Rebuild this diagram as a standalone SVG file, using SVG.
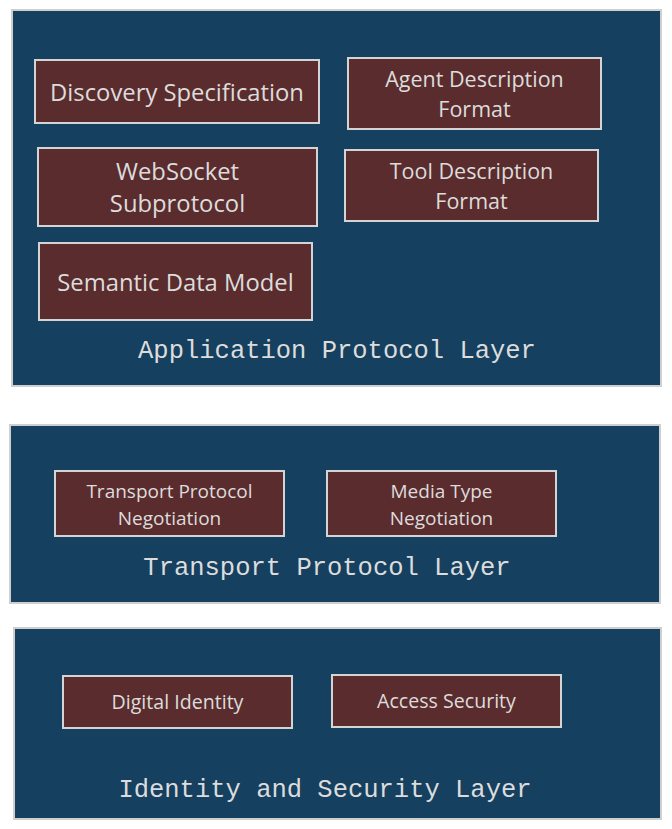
<svg xmlns="http://www.w3.org/2000/svg" width="672" height="829" viewBox="0 0 672 829">
<style>
.layer{fill:#16405f;stroke:#cfcfcf;stroke-width:2}
.node{fill:#5b2c2d;stroke:#d4d4d4;stroke-width:2}
.nt{font-family:"Open Sans","Noto Sans",sans-serif;fill:#dcdcdc;text-anchor:middle;dominant-baseline:central}
.big{font-size:23.8px}
.mid{font-size:21.5px}
.sm2{font-size:19px}
.sm3{font-size:19.6px}
.lt{font-family:"Liberation Mono","DejaVu Sans Mono",monospace;fill:#dcdcdc;text-anchor:middle;dominant-baseline:central;font-size:25.5px}
</style>
<rect width="672" height="829" fill="#ffffff"/>
<g id="layer-application">
<rect class="layer" x="12" y="10" width="649" height="376"/>
<text class="lt" x="337" y="351">Application Protocol Layer</text>
</g>
<g id="layer-transport">
<rect class="layer" x="10" y="425" width="650" height="178"/>
<text class="lt" x="327" y="568">Transport Protocol Layer</text>
</g>
<g id="layer-identity">
<rect class="layer" x="14" y="628" width="647" height="191"/>
<text class="lt" x="325" y="790">Identity and Security Layer</text>
</g>
<g id="node-discovery">
<rect class="node" x="35" y="60" width="284" height="63"/>
<text class="nt big" x="177" y="91.5">Discovery Specification</text>
</g>
<g id="node-agent-desc">
<rect class="node" x="348" y="58" width="253" height="71"/>
<text class="nt mid" x="474.5" y="78.5">Agent Description</text>
<text class="nt mid" x="474.5" y="108.5">Format</text>
</g>
<g id="node-websocket">
<rect class="node" x="38" y="148" width="279" height="78"/>
<text class="nt big" x="177.5" y="170.5">WebSocket</text>
<text class="nt big" x="177.5" y="202.5">Subprotocol</text>
</g>
<g id="node-tool-desc">
<rect class="node" x="345" y="150" width="253" height="71"/>
<text class="nt mid" x="471.5" y="170.5">Tool Description</text>
<text class="nt mid" x="471.5" y="200.5">Format</text>
</g>
<g id="node-semantic">
<rect class="node" x="39" y="243" width="273" height="77"/>
<text class="nt big" x="175.5" y="281.5">Semantic Data Model</text>
</g>
<g id="node-transport-neg">
<rect class="node" x="55" y="471" width="229" height="65"/>
<text class="nt sm2" x="169.5" y="490.5">Transport Protocol</text>
<text class="nt sm2" x="169.5" y="517.5">Negotiation</text>
</g>
<g id="node-media-neg">
<rect class="node" x="327" y="471" width="229" height="65"/>
<text class="nt sm2" x="441.5" y="490.5">Media Type</text>
<text class="nt sm2" x="441.5" y="517.5">Negotiation</text>
</g>
<g id="node-digital-identity">
<rect class="node" x="63" y="676" width="229" height="52"/>
<text class="nt sm3" x="177.5" y="701.5">Digital Identity</text>
</g>
<g id="node-access-security">
<rect class="node" x="332" y="675" width="229" height="52"/>
<text class="nt sm3" x="446.5" y="700.5">Access Security</text>
</g>
<g id="connectors"></g>
</svg>
